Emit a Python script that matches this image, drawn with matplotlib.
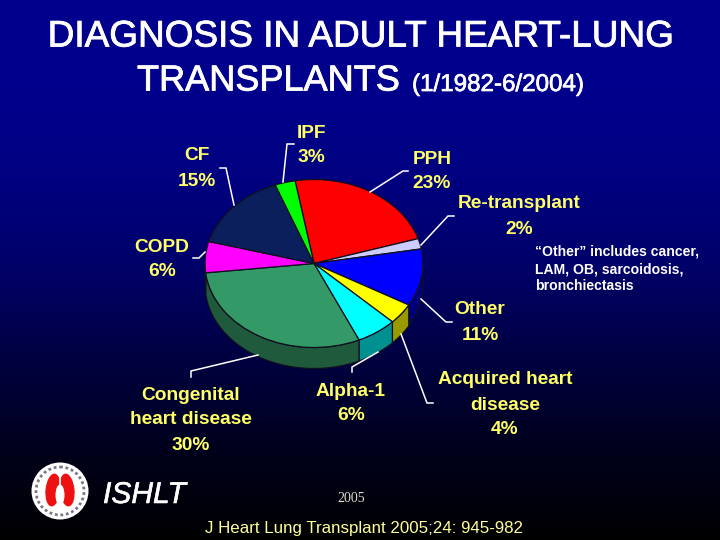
import numpy as np
import matplotlib
matplotlib.use("Agg")
import matplotlib.pyplot as plt
import matplotlib.patheffects as pe
from matplotlib.patches import Circle, Ellipse, Polygon

plt.rcParams['font.family'] = ['Liberation Sans', 'DejaVu Sans']

# данные
categories = ["PPH", "Re-transplant", "Other", "Acquired heart\ndisease", "Alpha-1",
              "Congenital\nheart disease", "COPD", "CF", "IPF"]
values = [23, 2, 11, 4, 6, 30, 6, 15, 3]
note_lines = ["\u201cOther\u201d includes cancer,", "LAM, OB, sarcoidosis,", "bronchiectasis"]

top_colors = ["#ff0000", "#ccccff", "#0000ff", "#ffff00", "#00ffff",
              "#339966", "#ff00ff", "#0a1f5c", "#00ff00"]
side_colors = ["#800000", "#666680", "#00007c", "#999900", "#009090",
               "#1f5a3c", "#800080", "#05102e", "#008000"]

# центр и полуоси эллипса в пикселях
cx, cy, rx, ry, depth = 314, 263.5, 109, 84, 21

fig = plt.figure(figsize=(7.2, 5.4), dpi=100)

# фон: вертикальный градиент
bg = fig.add_axes([0, 0, 1, 1], zorder=0)
grad = np.array([[0, 0, 140], [0, 0, 140], [0, 0, 128], [0, 0, 104], [0, 0, 64], [0, 0, 28], [0, 0, 0]]) / 255
stops = np.linspace(0, 1, 540)
rows = np.stack([np.interp(stops, np.linspace(0, 1, len(grad)), grad[:, i]) for i in range(3)], axis=1)
bg.imshow(rows[:, None, :], aspect="auto", extent=(0, 720, 540, 0))
bg.axis("off")

# круговая диаграмма: масштаб осей задаёт эллипс
ax = fig.add_axes([0, 0, 1, 1], zorder=1)
wedges, _ = ax.pie(values, colors=top_colors, startangle=100, counterclock=False,
                   wedgeprops=dict(edgecolor="#101020", linewidth=0.9, zorder=3))
ax.set_aspect("auto")
ax.set_xlim(-cx / rx, (720 - cx) / rx)
ax.set_ylim((cy - 540) / ry, cy / ry)
ax.patch.set_alpha(0)

# боковая стенка
d = depth / ry
for w, c in zip(wedges, side_colors):
    t1 = max(w.theta1 % 360 if w.theta1 % 360 > 0 else 360, 0)
    t2 = t1 + (w.theta2 - w.theta1)
    lo, hi = max(t1, 180), min(t2, 360)
    if t2 > 360 + 180:
        lo, hi = 180, t2 - 360
    if hi <= lo:
        continue
    t = np.radians(np.linspace(lo, hi, 60))
    xs, ys = np.cos(t), np.sin(t)
    pts = np.r_[np.c_[xs, ys], np.c_[xs[::-1], ys[::-1] - d]]
    ax.add_patch(Polygon(pts, closed=True, facecolor=c, edgecolor="#101020", linewidth=0.9, zorder=2))

# подписи и линии в пиксельных координатах
ov = fig.add_axes([0, 0, 1, 1], zorder=2)
ov.set_xlim(0, 720)
ov.set_ylim(540, 0)
ov.axis("off")


def thick(w):
    return [pe.withStroke(linewidth=w, foreground="white")]


ov.text(360, 37, "DIAGNOSIS IN ADULT HEART-LUNG", color="white", fontsize=26.6,
        ha="center", va="center", path_effects=thick(0.6))
ov.text(137, 81, "TRANSPLANTS", color="white", fontsize=26, ha="left", va="center",
        path_effects=thick(0.6))
ov.text(412, 85, "(1/1982-6/2004)", color="white", fontsize=17.4, ha="left", va="center",
        path_effects=thick(0.5))

leaders = [
    [(408, 171), (403, 171), (370, 192)],
    [(454, 216), (448, 216), (421, 245)],
    [(452, 322), (446, 322), (421, 299)],
    [(433, 403), (427, 403), (401, 334)],
    [(352, 372), (352, 367), (378, 352)],
    [(191, 377), (191, 371), (258, 355)],
    [(193, 258), (199, 258), (205, 252)],
    [(220, 168), (226, 168), (234, 205)],
    [(294, 144), (287, 144), (283, 182)],
]
for line in leaders:
    ov.plot(*zip(*line), color="white", lw=1.1, solid_joinstyle="miter")

label_pos = [(432, 159), (519, 204), (480, 310), (505, 380), (351, 391), (191, 395), (162, 247), (197, 156), (311, 133)]
for name, val, (x, y) in zip(categories, values, label_pos):
    for i, line in enumerate(name.split("\n") + [f"{val}%"]):
        ov.text(x, y + i * 25, line, color="#ffff66", fontsize=13.8, fontweight="bold",
                ha="center", va="center")

for i, line in enumerate(note_lines):
    ov.text(535, 252 + i * 17, line, color="white", fontsize=10.1, fontweight="bold", ha="left", va="center")

# логотип
ov.add_patch(Circle((60, 491), 28.5, facecolor="white", edgecolor="none"))
ov.add_patch(Circle((60, 491), 24, facecolor="none", edgecolor="#777788", lw=2, ls=(0, (1, 1))))
ov.add_patch(Ellipse((53, 490), 15, 33, angle=6, facecolor="#ee1111", edgecolor="none"))
ov.add_patch(Ellipse((67, 490), 15, 33, angle=-6, facecolor="#ee1111", edgecolor="none"))
ov.add_patch(Ellipse((60, 495), 9, 21, facecolor="white", edgecolor="none"))
ov.plot([60, 60], [473, 486], color="white", lw=1.2)

ov.text(103, 495, "ISHLT", color="white", fontsize=21.6, fontstyle="italic", ha="left", va="center",
        path_effects=thick(0.4))
ov.text(351, 498, "2005", color="#ddddcc", fontsize=10, family="Liberation Serif", ha="center", va="center")
ov.text(205, 528, "J Heart Lung Transplant 2005;24: 945-982", color="#ffff99", fontsize=12.2,
        ha="left", va="center")

fig.savefig("out.png", dpi=100)
